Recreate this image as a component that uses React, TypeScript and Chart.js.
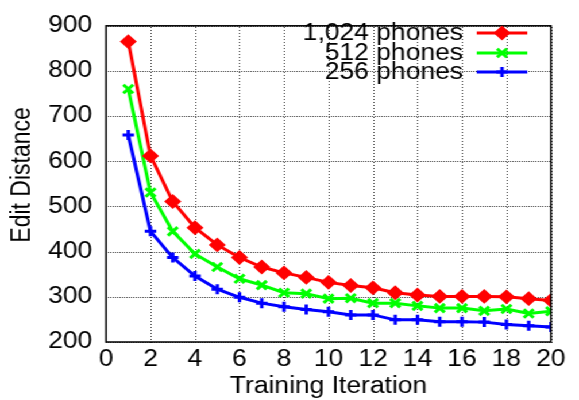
import React, { useEffect, useRef } from "react";
import { Chart, registerables } from "chart.js";
import { drawPoint } from "chart.js/helpers";

Chart.register(...registerables);

// Training iterations on the x axis
const iterations = [1, 2, 3, 4, 5, 6, 7, 8, 9, 10, 11, 12, 13, 14, 15, 16, 17, 18, 19, 20];

// Edit distance per iteration for each training-set size
const phones1024 = [865, 612, 511, 453, 415, 387, 366, 353, 343, 332, 325, 320, 309, 304, 301, 301, 301, 300, 296, 292];
const phones512 = [760, 531, 445, 395, 366, 340, 326, 309, 307, 296, 297, 286, 286, 280, 275, 275, 269, 273, 263, 268];
const phones256 = [658, 445, 387, 346, 317, 299, 286, 278, 272, 267, 260, 260, 249, 249, 245, 245, 244, 239, 236, 233];

const seriesLabels = ["1,024 phones", "512 phones", "256 phones"];

const xTicks = [0, 2, 4, 6, 8, 10, 12, 14, 16, 18, 20];
const yTicks = [200, 300, 400, 500, 600, 700, 800, 900];

const X_TITLE = "Training Iteration";
const Y_TITLE = "Edit Distance";

const FONT = "'Liberation Sans', Arial, Helvetica, sans-serif";
const FONT_SIZE = 23;
const DRAW_W = 504;
const DRAW_H = 400;
const STRETCH = 579 / DRAW_W;

// Dotted grid at every tick (1px dots), drawn under the data
const dottedGridPlugin = {
  id: "dottedGrid",
  beforeDraw(chart: any) {
    const { ctx, chartArea, scales } = chart;
    if (!chartArea) return;
    ctx.save();
    ctx.fillStyle = "#404040";
    const top = Math.round(chartArea.top);
    const bottom = Math.round(chartArea.bottom);
    const left = Math.round(chartArea.left);
    const right = Math.round(chartArea.right);
    xTicks.forEach((v) => {
      const x = Math.round(scales.x.getPixelForValue(v));
      for (let y = bottom; y > top; y -= 3) ctx.fillRect(x, y, 1, 1);
    });
    yTicks.forEach((v) => {
      const y = Math.round(scales.y.getPixelForValue(v));
      for (let x = left; x < right; x += 2) ctx.fillRect(x, y, 1, 1);
    });
    ctx.restore();
  },
};

// Solid frame around the plot area and the vertical axis title
const framePlugin = {
  id: "frame",
  afterDatasetsDraw(chart: any) {
    const { ctx, chartArea } = chart;
    ctx.save();
    ctx.strokeStyle = "#000";
    ctx.lineWidth = 1.5;
    ctx.strokeRect(chartArea.left, chartArea.top, chartArea.right - chartArea.left, chartArea.bottom - chartArea.top);
    ctx.translate(20, (chartArea.top + chartArea.bottom) / 2 - 9);
    ctx.rotate(-Math.PI / 2);
    ctx.font = `${FONT_SIZE}px ${FONT}`;
    ctx.fillStyle = "#000";
    ctx.textAlign = "center";
    ctx.textBaseline = "middle";
    ctx.fillText(Y_TITLE, 0, 0);
    ctx.restore();
  },
};

// gnuplot-style key: right-aligned text with the line sample on its right
const keyPlugin = {
  id: "gnuplotKey",
  afterDraw(chart: any) {
    const { ctx } = chart;
    const textRight = 403;
    const sampleL = 415;
    const sampleR = 459;
    const rowY = [33, 53, 72];
    ctx.save();
    ctx.font = `${FONT_SIZE}px ${FONT}`;
    ctx.textAlign = "right";
    ctx.textBaseline = "middle";
    chart.data.datasets.forEach((ds: any, i: number) => {
      const y = rowY[i];
      ctx.fillStyle = "#000";
      ctx.fillText(ds.label, textRight, y + 1);
      ctx.strokeStyle = ds.borderColor;
      ctx.lineWidth = ds.borderWidth;
      ctx.beginPath();
      ctx.moveTo(sampleL, y);
      ctx.lineTo(sampleR, y);
      ctx.stroke();
      ctx.fillStyle = ds.pointBackgroundColor;
      ctx.strokeStyle = ds.pointBorderColor;
      ctx.lineWidth = ds.pointBorderWidth;
      drawPoint(ctx, { pointStyle: ds.pointStyle, radius: ds.pointRadius, rotation: 0, borderWidth: ds.pointBorderWidth }, (sampleL + sampleR) / 2, y);
    });
    ctx.restore();
  },
};

export default function App() {
  const canvasRef = useRef<HTMLCanvasElement | null>(null);

  useEffect(() => {
    if (!canvasRef.current) return;
    const makePoints = (vals: number[]) => iterations.map((x, i) => ({ x, y: vals[i] }));
    const chart = new Chart(canvasRef.current, {
      type: "line",
      data: {
        datasets: [
          {
            label: seriesLabels[0],
            data: makePoints(phones1024),
            borderColor: "#ff0000",
            backgroundColor: "#ff0000",
            borderWidth: 3,
            pointStyle: "rectRot",
            pointRadius: 6,
            pointBackgroundColor: "#ff0000",
            pointBorderColor: "#ff0000",
            pointBorderWidth: 2,
          },
          {
            label: seriesLabels[1],
            data: makePoints(phones512),
            borderColor: "#00ff00",
            backgroundColor: "#00ff00",
            borderWidth: 3,
            pointStyle: "crossRot",
            pointRadius: 6,
            pointBackgroundColor: "#00ff00",
            pointBorderColor: "#00ff00",
            pointBorderWidth: 3,
          },
          {
            label: seriesLabels[2],
            data: makePoints(phones256),
            borderColor: "#0000ff",
            backgroundColor: "#0000ff",
            borderWidth: 3,
            pointStyle: "cross",
            pointRadius: 5,
            pointBackgroundColor: "#0000ff",
            pointBorderColor: "#0000ff",
            pointBorderWidth: 3,
          },
        ],
      },
      options: {
        animation: false,
        responsive: true,
        maintainAspectRatio: false,
        layout: { padding: { top: 19.5, right: DRAW_W - 479.6, bottom: 0, left: 0 } },
        plugins: {
          legend: { display: false },
          tooltip: { enabled: false },
        },
        scales: {
          x: {
            type: "linear",
            min: 0,
            max: 20,
            afterBuildTicks: (scale: any) => {
              scale.ticks = xTicks.map((v) => ({ value: v }));
            },
            afterFit: (scale: any) => {
              scale.height = 58;
            },
            ticks: {
              color: "#000",
              padding: 4,
              maxRotation: 0,
              autoSkip: false,
              font: { family: FONT, size: FONT_SIZE },
            },
            grid: { display: false, drawTicks: false },
            border: { display: false },
            title: {
              display: true,
              text: X_TITLE,
              color: "#000",
              padding: { top: 0, bottom: 0 },
              font: { family: FONT, size: FONT_SIZE },
            },
          },
          y: {
            type: "linear",
            min: 200,
            max: 900,
            afterBuildTicks: (scale: any) => {
              scale.ticks = yTicks.map((v) => ({ value: v }));
            },
            afterFit: (scale: any) => {
              scale.width = 92.3;
            },
            ticks: {
              color: "#000",
              padding: 12,
              autoSkip: false,
              font: { family: FONT, size: FONT_SIZE },
            },
            grid: { display: false, drawTicks: false },
            border: { display: false },
          },
        },
      },
      plugins: [dottedGridPlugin, framePlugin, keyPlugin],
    });
    return () => chart.destroy();
  }, []);

  return (
    <div
      style={{
        position: "fixed",
        left: 0,
        top: 0,
        width: DRAW_W,
        height: DRAW_H,
        background: "#fff",
        transform: `scaleX(${STRETCH})`,
        transformOrigin: "0 0",
      }}
    >
      <canvas ref={canvasRef} />
    </div>
  );
}
